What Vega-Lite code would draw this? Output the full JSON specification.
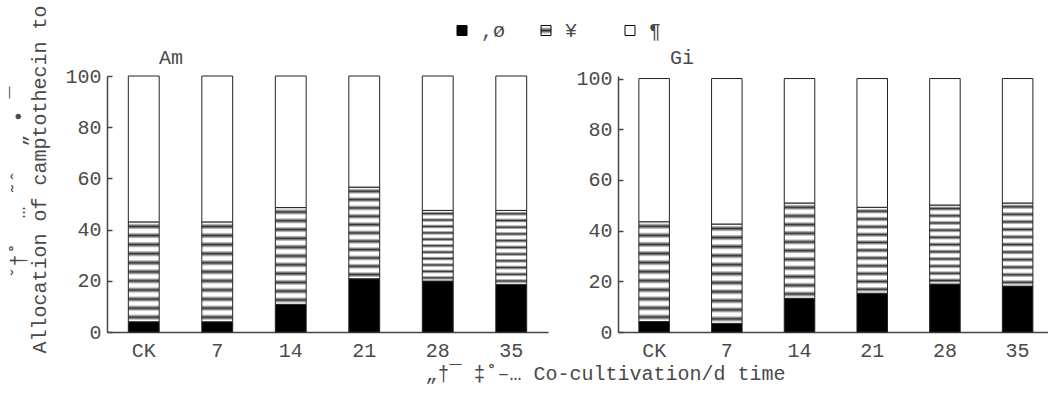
{
  "$schema": "https://vega.github.io/schema/vega-lite/v6.json",
  "background": "#ffffff",
  "padding": {"left": 8, "top": 4, "right": 0, "bottom": 16},
  "bounds": "flush",
  "spacing": 70,
  "data": {"values": [
    {"panel": "Am", "time": "CK", "cat": ",ø", "value": 4.0},
    {"panel": "Am", "time": "CK", "cat": "¥", "value": 39.0},
    {"panel": "Am", "time": "CK", "cat": "¶", "value": 57.0},
    {"panel": "Am", "time": "7", "cat": ",ø", "value": 4.0},
    {"panel": "Am", "time": "7", "cat": "¥", "value": 39.0},
    {"panel": "Am", "time": "7", "cat": "¶", "value": 57.0},
    {"panel": "Am", "time": "14", "cat": ",ø", "value": 10.8},
    {"panel": "Am", "time": "14", "cat": "¥", "value": 37.8},
    {"panel": "Am", "time": "14", "cat": "¶", "value": 51.4},
    {"panel": "Am", "time": "21", "cat": ",ø", "value": 20.8},
    {"panel": "Am", "time": "21", "cat": "¥", "value": 35.8},
    {"panel": "Am", "time": "21", "cat": "¶", "value": 43.4},
    {"panel": "Am", "time": "28", "cat": ",ø", "value": 19.9},
    {"panel": "Am", "time": "28", "cat": "¥", "value": 27.6},
    {"panel": "Am", "time": "28", "cat": "¶", "value": 52.5},
    {"panel": "Am", "time": "35", "cat": ",ø", "value": 18.6},
    {"panel": "Am", "time": "35", "cat": "¥", "value": 28.9},
    {"panel": "Am", "time": "35", "cat": "¶", "value": 52.5},
    {"panel": "Gi", "time": "CK", "cat": ",ø", "value": 4.1},
    {"panel": "Gi", "time": "CK", "cat": "¥", "value": 39.4},
    {"panel": "Gi", "time": "CK", "cat": "¶", "value": 56.5},
    {"panel": "Gi", "time": "7", "cat": ",ø", "value": 3.4},
    {"panel": "Gi", "time": "7", "cat": "¥", "value": 39.2},
    {"panel": "Gi", "time": "7", "cat": "¶", "value": 57.4},
    {"panel": "Gi", "time": "14", "cat": ",ø", "value": 13.3},
    {"panel": "Gi", "time": "14", "cat": "¥", "value": 37.6},
    {"panel": "Gi", "time": "14", "cat": "¶", "value": 49.1},
    {"panel": "Gi", "time": "21", "cat": ",ø", "value": 15.3},
    {"panel": "Gi", "time": "21", "cat": "¥", "value": 33.9},
    {"panel": "Gi", "time": "21", "cat": "¶", "value": 50.8},
    {"panel": "Gi", "time": "28", "cat": ",ø", "value": 18.9},
    {"panel": "Gi", "time": "28", "cat": "¥", "value": 31.2},
    {"panel": "Gi", "time": "28", "cat": "¶", "value": 49.9},
    {"panel": "Gi", "time": "35", "cat": ",ø", "value": 18.1},
    {"panel": "Gi", "time": "35", "cat": "¥", "value": 32.8},
    {"panel": "Gi", "time": "35", "cat": "¶", "value": 49.1}
  ]},
  "config": {
    "font": "Liberation Mono",
    "view": {"stroke": null},
    "axis": {
      "labelFont": "Liberation Mono", "labelFontSize": 20, "labelColor": "#4a4a4a",
      "titleFont": "Liberation Mono, DejaVu Sans Mono", "titleFontSize": 20, "titleFontWeight": "normal", "titleColor": "#4a4a4a",
      "domainColor": "#444", "domainWidth": 1.5, "tickColor": "#444", "tickWidth": 1.5, "grid": false
    },
    "title": {"font": "Liberation Mono", "fontSize": 20, "fontWeight": "normal", "color": "#4a4a4a"},
    "legend": {
      "labelFont": "Liberation Mono", "labelFontSize": 20, "labelColor": "#4a4a4a"
    }
  },
  "resolve": {"scale": {"fill": "shared"}},
  "hconcat": [
    {
      "width": 441,
      "height": 256,
      "title": {"text": "Am", "anchor": "start", "frame": "group", "dx": 52, "dy": 91, "offset": 12, "baseline": "alphabetic"},
      "transform": [{"filter": "datum.panel === 'Am'"}],
      "mark": {"type": "bar", "stroke": "#222", "strokeWidth": 1},
      "encoding": {
        "x": {
          "field": "time", "type": "ordinal", "sort": ["CK", "7", "14", "21", "28", "35"],
          "scale": {"paddingInner": 0.58, "paddingOuter": 0.29},
          "axis": {
            "title": "„†¯ ‡˚–… Co-cultivation/d time",
            "labelAngle": 0, "ticks": false, "labelPadding": 8,
            "titleX": 498, "titleY": 47, "titleAlign": "center", "titleBaseline": "alphabetic"
          }
        },
        "y": {
          "field": "value", "type": "quantitative", "stack": "zero",
          "scale": {"domain": [0, 100], "nice": false},
          "axis": {
            "values": [0, 20, 40, 60, 80, 100], "tickSize": -5, "labelPadding": 11,
            "title": ["\u2800\u2800\u2800\u2800\u2800ˇ†˚\u00a0\u00a0…\u00a0˜ˆ\u00a0\u00a0„\u00a0•\u00a0¯", "Allocation of camptothecin to"],
            "titleAngle": -90, "titleAlign": "left", "titleBaseline": "top",
            "titleX": -99, "titleY": 277, "titleLineHeight": 21
          }
        },
        "fill": {
          "field": "cat", "type": "nominal",
          "scale": {
            "domain": [",ø", "¥", "¶"],
            "range": [
              "#000000",
              {"expr": "{gradient:'linear',x1:0,y1:0,x2:0,y2:1,stops:[{offset:0,color:'#fff'},{offset:0.0136,color:'#fff'},{offset:0.0455,color:'#333'},{offset:0.0773,color:'#fff'},{offset:0.1045,color:'#fff'},{offset:0.1364,color:'#333'},{offset:0.1682,color:'#fff'},{offset:0.1955,color:'#fff'},{offset:0.2273,color:'#333'},{offset:0.2591,color:'#fff'},{offset:0.2864,color:'#fff'},{offset:0.3182,color:'#333'},{offset:0.35,color:'#fff'},{offset:0.3773,color:'#fff'},{offset:0.4091,color:'#333'},{offset:0.4409,color:'#fff'},{offset:0.4682,color:'#fff'},{offset:0.5,color:'#333'},{offset:0.5318,color:'#fff'},{offset:0.5591,color:'#fff'},{offset:0.5909,color:'#333'},{offset:0.6227,color:'#fff'},{offset:0.65,color:'#fff'},{offset:0.6818,color:'#333'},{offset:0.7136,color:'#fff'},{offset:0.7409,color:'#fff'},{offset:0.7727,color:'#333'},{offset:0.8045,color:'#fff'},{offset:0.8318,color:'#fff'},{offset:0.8636,color:'#333'},{offset:0.8955,color:'#fff'},{offset:0.9227,color:'#fff'},{offset:0.9545,color:'#333'},{offset:0.9864,color:'#fff'},{offset:1,color:'#fff'}]}"},
              "#ffffff"
            ]
          },
          "legend": {
            "title": null, "orient": "none", "legendX": 345, "legendY": -55.5,
            "direction": "horizontal", "columns": 3, "gridAlign": "all", "columnPadding": 30,
            "symbolType": "square", "symbolSize": 100, "symbolStrokeColor": "#000", "symbolStrokeWidth": 1,
            "symbolOpacity": 1, "labelOffset": 9,
            "labelExpr": "datum.label === '¥' ? '¥\u00a0' : datum.label"
          }
        },
        "order": {"field": "cat", "sort": "ascending"}
      }
    },
    {
      "width": 430,
      "height": 256,
      "title": {"text": "Gi", "anchor": "start", "frame": "group", "dx": 52, "dy": 27, "offset": 12, "baseline": "alphabetic"},
      "transform": [{"filter": "datum.panel === 'Gi'"}],
      "mark": {"type": "bar", "stroke": "#222", "strokeWidth": 1},
      "encoding": {
        "x": {
          "field": "time", "type": "ordinal", "sort": ["CK", "7", "14", "21", "28", "35"],
          "scale": {"paddingInner": 0.58, "paddingOuter": 0.2475, "align": 0.58},
          "axis": {"title": null, "labelAngle": 0, "ticks": false, "labelPadding": 8}
        },
        "y": {
          "field": "value", "type": "quantitative", "stack": "zero",
          "scale": {"domain": [0, 101], "nice": false},
          "axis": {"values": [0, 20, 40, 60, 80, 100], "tickSize": -5, "labelPadding": 11, "title": null}
        },
        "fill": {
          "field": "cat", "type": "nominal",
          "legend": {
            "title": null, "orient": "none", "legendX": 345, "legendY": -55.5,
            "direction": "horizontal", "columns": 3, "gridAlign": "all", "columnPadding": 30,
            "symbolType": "square", "symbolSize": 100, "symbolStrokeColor": "#000", "symbolStrokeWidth": 1,
            "symbolOpacity": 1, "labelOffset": 9,
            "labelExpr": "datum.label === '¥' ? '¥\u00a0' : datum.label"
          }
        },
        "order": {"field": "cat", "sort": "ascending"}
      }
    }
  ]
}
